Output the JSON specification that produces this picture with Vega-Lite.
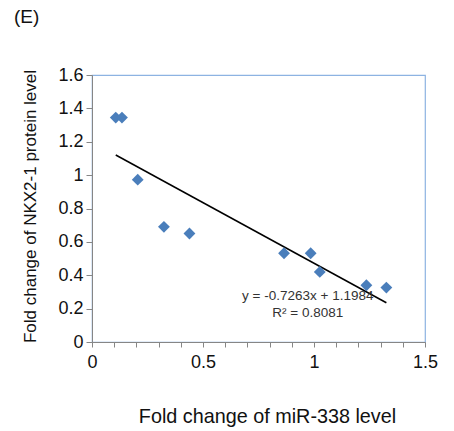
{
  "$schema": "https://vega.github.io/schema/vega-lite/v6.json",
  "autosize": "none",
  "width": 333,
  "height": 267,
  "padding": {"left": 92, "top": 75, "right": 29, "bottom": 89},
  "background": "white",
  "config": {
    "view": {"stroke": "#8db3e2", "strokeWidth": 1.2},
    "font": "Liberation Sans"
  },
  "title": {
    "text": "(E)",
    "anchor": "start",
    "frame": "group",
    "dx": -78,
    "offset": 39,
    "fontSize": 19,
    "fontWeight": "normal",
    "font": "Liberation Sans",
    "color": "#111111"
  },
  "datasets": {
    "pts": [
      {"x": 0.107, "y": 1.345},
      {"x": 0.135, "y": 1.345},
      {"x": 0.206, "y": 0.973},
      {"x": 0.324, "y": 0.69},
      {"x": 0.439, "y": 0.65},
      {"x": 0.865, "y": 0.532},
      {"x": 0.985, "y": 0.532},
      {"x": 1.026, "y": 0.42},
      {"x": 1.236, "y": 0.34},
      {"x": 1.326, "y": 0.326}
    ],
    "trend": [
      {"x": 0.107, "y": 1.1207},
      {"x": 1.326, "y": 0.2353}
    ],
    "labels": [
      {"x": 0.972, "y": 0.274, "t": "y = -0.7263x + 1.1984"},
      {"x": 0.972, "y": 0.174, "t": "R² = 0.8081"}
    ]
  },
  "encoding": {
    "x": {
      "field": "x", "type": "quantitative",
      "scale": {"domain": [0, 1.5], "nice": false, "zero": false},
      "axis": {
        "title": "Fold change of miR-338 level",
        "format": "~g",
        "values": [0, 0.1, 0.2, 0.3, 0.4, 0.5, 0.6, 0.7, 0.8, 0.9, 1, 1.1, 1.2, 1.3, 1.4, 1.5],
        "labelExpr": "(abs(datum.value*2 - round(datum.value*2)) < 0.001) ? datum.label : ''",
        "grid": false,
        "domainColor": "#868686",
        "tickColor": "#868686",
        "tickSize": 5,
        "labelFontSize": 18,
        "labelColor": "#111111",
        "labelPadding": 6,
        "labelFlush": false,
        "titleFontSize": 19.8,
        "titleFontWeight": "normal",
        "titleColor": "#111111",
        "titleX": 175,
        "titleAlign": "center",
        "titleY": 74,
        "titleBaseline": "middle"
      }
    },
    "y": {
      "field": "y", "type": "quantitative",
      "scale": {"domain": [0, 1.6], "nice": false, "zero": false},
      "axis": {
        "title": "Fold change of NKX2-1 protein level",
        "format": "~g",
        "values": [0, 0.2, 0.4, 0.6, 0.8, 1, 1.2, 1.4, 1.6],
        "grid": false,
        "domainColor": "#868686",
        "tickColor": "#868686",
        "tickSize": 6,
        "labelFontSize": 18,
        "labelColor": "#111111",
        "labelPadding": 3,
        "labelFlush": false,
        "titleFontSize": 17,
        "titleFontWeight": "normal",
        "titleColor": "#111111",
        "titleX": -62,
        "titleY": 131,
        "titleAngle": -90,
        "titleAlign": "center",
        "titleBaseline": "middle"
      }
    }
  },
  "layer": [
    {
      "data": {"name": "trend"},
      "mark": {"type": "line", "color": "#000000", "strokeWidth": 1.5}
    },
    {
      "data": {"name": "pts"},
      "mark": {"type": "point", "shape": "diamond", "filled": true, "size": 140, "color": "#4a7ebb", "opacity": 1}
    },
    {
      "data": {"name": "labels"},
      "mark": {"type": "text", "fontSize": 13.5, "color": "#333333", "font": "Liberation Sans", "align": "center", "baseline": "middle"},
      "encoding": {"text": {"field": "t"}}
    }
  ]
}
